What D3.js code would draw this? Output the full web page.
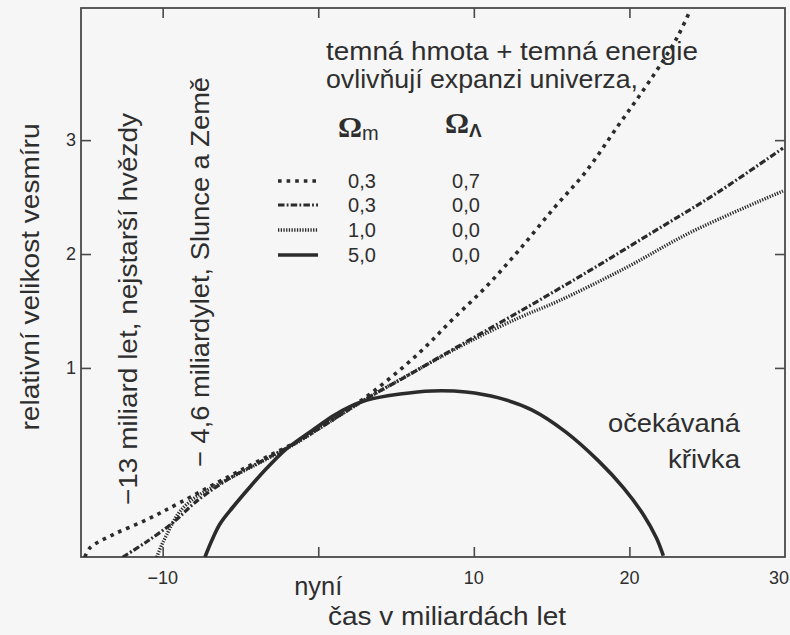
<!DOCTYPE html>
<html>
<head>
<meta charset="utf-8">
<script src="https://cdn.jsdelivr.net/npm/d3@7"></script>
<style>
  html, body { margin: 0; padding: 0; background: #f6f6f6; }
  svg { display: block; }
  text { font-family: 'Liberation Sans Narrow', 'Arial Narrow', 'Liberation Sans', sans-serif; fill: #2e2e2e; }
</style>
</head>
<body>
<div id="chart"></div>
<script>
// values: [time in Gyr, relative size]
const seriesLambda = [
  [-15.0, -0.66], [-14.68, -0.58], [-13.21, -0.465], [-11.03, -0.333], [-8.91, -0.184],
  [-5.71, 0.05], [-3.59, 0.2], [-1.41, 0.35], [0.06, 0.47], [3.27, 0.765],
  [6.47, 1.13], [8.59, 1.42], [10.77, 1.71], [12.88, 2.03], [15.13, 2.4],
  [17.18, 2.72], [19.29, 3.13], [20.9, 3.44], [22.18, 3.7], [23.14, 3.92], [23.91, 4.14]
];
const seriesOpen = [
  [-12.56, -0.66], [-11.03, -0.526], [-9.36, -0.36], [-8.08, -0.2], [-7.44, -0.13],
  [-5.71, 0.03], [-3.59, 0.185], [-1.41, 0.345], [0.06, 0.47], [3.27, 0.745],
  [5.38, 0.904], [8.59, 1.158], [12.88, 1.49], [17.18, 1.833], [21.41, 2.184],
  [25.71, 2.544], [29.87, 2.93]
];
const seriesFlat = [
  [-10.38, -0.66], [-10.06, -0.553], [-9.74, -0.465], [-9.36, -0.36], [-8.91, -0.263],
  [-8.27, -0.175], [-7.44, -0.096], [-5.71, 0.03], [-3.59, 0.18], [-1.41, 0.34],
  [0.06, 0.468], [3.27, 0.742], [6.47, 0.99], [9.68, 1.228], [12.88, 1.439],
  [15.45, 1.588], [19.74, 1.877], [23.97, 2.193], [29.87, 2.553]
];
const seriesClosed = [
  [-7.28, -0.66], [-6.83, -0.511], [-6.32, -0.37], [-5.48, -0.221], [-4.39, -0.045],
  [-3.3, 0.121], [-2.14, 0.279], [-1.18, 0.376], [-0.08, 0.481], [0.94, 0.578],
  [2.04, 0.66], [3.13, 0.718], [5.25, 0.771], [7.31, 0.798], [9.49, 0.789],
  [11.6, 0.737], [13.72, 0.632], [15.9, 0.439], [18.01, 0.184], [19.62, -0.053],
  [20.9, -0.289], [21.73, -0.491], [22.18, -0.649]
];

const xTicks = [-10, 0, 10, 20, 30];
const xTickLabels = ['\u221210', '', '10', '20', '30'];
const yTicks = [1, 2, 3];
const legendOmegaM = ['0,3', '0,3', '1,0', '5,0'];
const legendOmegaL = ['0,7', '0,0', '0,0', '0,0'];

const ink = '#2b2b2b';
const styles = [
  { data: seriesLambda, width: 3.6, dash: '3.6,5' },
  { data: seriesOpen, width: 3.2, dash: '6.5,2.2,1.8,2.2' },
  { data: seriesFlat, width: 3.4, dash: '1.3,1.4' },
  { data: seriesClosed, width: 3.6, dash: null },
];

const width = 790, height = 635;
const margin = { top: 8, right: 5, bottom: 78, left: 81 };

const x = d3.scaleLinear().domain([-15.25, 30]).range([margin.left, width - margin.right]);
const y = d3.scaleLinear().domain([-0.66, 4.16]).range([height - margin.bottom, margin.top]);

const svg = d3.select('#chart').append('svg')
  .attr('width', width)
  .attr('height', height);

svg.append('clipPath').attr('id', 'plot-clip')
  .append('rect')
  .attr('x', margin.left).attr('y', margin.top)
  .attr('width', width - margin.left - margin.right)
  .attr('height', height - margin.top - margin.bottom);

// frame
svg.append('rect')
  .attr('x', margin.left).attr('y', margin.top)
  .attr('width', width - margin.left - margin.right)
  .attr('height', height - margin.top - margin.bottom)
  .attr('fill', 'none')
  .attr('stroke', '#4a4a4a')
  .attr('stroke-width', 1.8);

// inward ticks on all four sides
const tickLen = 10;
const bottomAxis = d3.axisTop(x).tickValues(xTicks.slice(0, 4)).tickSize(tickLen).tickFormat('');
const topAxis = d3.axisBottom(x).tickValues(xTicks.slice(0, 4)).tickSize(tickLen).tickFormat('');
const leftAxis = d3.axisRight(y).tickValues(yTicks).tickSize(tickLen).tickFormat('');
const rightAxis = d3.axisLeft(y).tickValues(yTicks).tickSize(tickLen).tickFormat('');

[[bottomAxis, `translate(0,${y.range()[0]})`],
 [topAxis, `translate(0,${y.range()[1]})`],
 [leftAxis, `translate(${x.range()[0]},0)`],
 [rightAxis, `translate(${x.range()[1]},0)`]].forEach(([ax, tr]) => {
  const g = svg.append('g').attr('transform', tr).call(ax);
  g.select('.domain').remove();
  g.selectAll('line').attr('stroke', '#4a4a4a').attr('stroke-width', 1.6);
});

// tick labels
svg.append('g').selectAll('text')
  .data(xTicks.map((v, i) => ({ v, label: xTickLabels[i] })).filter(d => d.label))
  .join('text')
  .attr('x', d => d.v === 30 ? 789 : x(d.v))
  .attr('y', 584)
  .attr('text-anchor', d => d.v === 30 ? 'end' : 'middle')
  .attr('font-size', 18)
  .text(d => d.label);

svg.append('g').selectAll('text')
  .data(yTicks)
  .join('text')
  .attr('x', 71)
  .attr('y', d => y(d) + 6)
  .attr('text-anchor', 'middle')
  .attr('font-size', 18)
  .text(d => d);

// curves
const line = d3.line()
  .x(d => x(d[0]))
  .y(d => y(d[1]))
  .curve(d3.curveCatmullRom.alpha(0.5));

const curves = svg.append('g').attr('clip-path', 'url(#plot-clip)');
styles.forEach(s => {
  curves.append('path')
    .attr('d', line(s.data))
    .attr('fill', 'none')
    .attr('stroke', ink)
    .attr('stroke-width', s.width)
    .attr('stroke-dasharray', s.dash);
});

// legend
const legendRowY = [181, 205, 230, 255];
const legend = svg.append('g');
legend.selectAll('line')
  .data(styles)
  .join('line')
  .attr('x1', 278).attr('x2', 318)
  .attr('y1', (d, i) => legendRowY[i]).attr('y2', (d, i) => legendRowY[i])
  .attr('stroke', ink)
  .attr('stroke-width', d => d.width)
  .attr('stroke-dasharray', d => d.dash);

legend.selectAll('text.om')
  .data(legendOmegaM)
  .join('text')
  .attr('class', 'om')
  .attr('x', 362).attr('y', (d, i) => legendRowY[i] + 7)
  .attr('text-anchor', 'middle')
  .attr('font-size', 20)
  .text(d => d);

legend.selectAll('text.ol')
  .data(legendOmegaL)
  .join('text')
  .attr('class', 'ol')
  .attr('x', 466).attr('y', (d, i) => legendRowY[i] + 7)
  .attr('text-anchor', 'middle')
  .attr('font-size', 20)
  .text(d => d);

const omM = legend.append('text').attr('x', 338).attr('y', 137);
omM.append('tspan').attr('font-family', 'Liberation Serif, serif').attr('font-size', 30).attr('font-weight', 'bold').text('\u03A9');
omM.append('tspan').attr('font-size', 20).attr('dy', 3).text('m');

const omL = legend.append('text').attr('x', 445).attr('y', 133);
omL.append('tspan').attr('font-family', 'Liberation Serif, serif').attr('font-size', 30).attr('font-weight', 'bold').text('\u03A9');
omL.append('tspan').attr('font-size', 19).attr('font-weight', 'bold').attr('dy', 4).text('\u039B');

svg.append('text').attr('x', 326).attr('y', 60)
  .attr('font-size', 26).attr('textLength', 372).attr('lengthAdjust', 'spacingAndGlyphs')
  .text('temná hmota + temná energie');
svg.append('text').attr('x', 326).attr('y', 88)
  .attr('font-size', 26).attr('textLength', 312).attr('lengthAdjust', 'spacingAndGlyphs')
  .text('ovlivňují expanzi univerza,');

// rotated annotations
function vtext(cx, cy, len, size, str) {
  svg.append('text')
    .attr('transform', `translate(${cx},${cy}) rotate(-90)`)
    .attr('text-anchor', 'middle')
    .attr('dy', '0.35em')
    .attr('font-size', size)
    .attr('textLength', len).attr('lengthAdjust', 'spacingAndGlyphs')
    .text(str);
}
vtext(30, 277, 307, 26, 'relativní velikost vesmíru');
vtext(128, 309, 392, 26, '\u221213 miliard let, nejstarší hvězdy');
vtext(200, 272, 390, 26, '\u2212 4,6 miliardylet, Slunce a Země');

// curve label and axis title
svg.append('text').attr('x', 740).attr('y', 432).attr('text-anchor', 'end')
  .attr('font-size', 26).attr('textLength', 132).attr('lengthAdjust', 'spacingAndGlyphs')
  .text('očekávaná');
svg.append('text').attr('x', 740).attr('y', 468).attr('text-anchor', 'end')
  .attr('font-size', 26).attr('textLength', 72).attr('lengthAdjust', 'spacingAndGlyphs')
  .text('křivka');

svg.append('text').attr('x', x(0)).attr('y', 595).attr('text-anchor', 'middle')
  .attr('font-size', 26).attr('textLength', 48).attr('lengthAdjust', 'spacingAndGlyphs')
  .text('nyní');
svg.append('text').attr('x', 447).attr('y', 625).attr('text-anchor', 'middle')
  .attr('font-size', 26).attr('textLength', 238).attr('lengthAdjust', 'spacingAndGlyphs')
  .text('čas v miliardách let');
</script>
</body>
</html>
